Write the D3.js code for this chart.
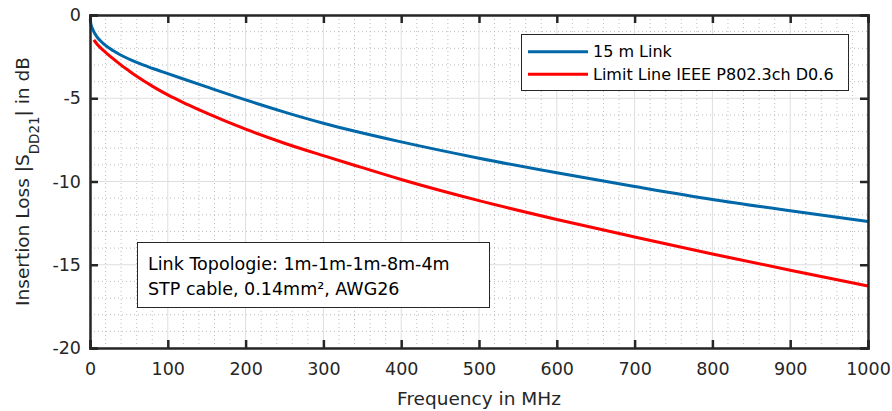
<!DOCTYPE html>
<html><head><meta charset="utf-8">
<script src="https://cdn.jsdelivr.net/npm/d3@7"></script>
<style>body{margin:0;background:#fff;} text{font-family:"DejaVu Sans",sans-serif;}</style>
</head><body>
<svg id="c" width="892" height="411"></svg>
<script>
const xTicks = [0,100,200,300,400,500,600,700,800,900,1000];
const yTicks = [0,-5,-10,-15,-20];
const linkFreq = [0.3,1,3,6,10,15,20,30,40,60,80,100,150,200,250,300,400,500,600,700,800,900,1000];
const linkIL   = [-0.25,-0.5,-0.8,-1.1,-1.38,-1.62,-1.83,-2.15,-2.42,-2.85,-3.2,-3.52,-4.32,-5.1,-5.83,-6.5,-7.62,-8.6,-9.48,-10.3,-11.08,-11.76,-12.4];
const limitFreq = [5,10,15,20,30,40,50,60,80,100,125,150,200,250,300,350,400,500,600,700,800,900,1000];
const limitIL   = [-1.5,-1.8,-2.03,-2.24,-2.64,-3.01,-3.35,-3.68,-4.27,-4.8,-5.37,-5.9,-6.86,-7.7,-8.45,-9.17,-9.88,-11.15,-12.28,-13.33,-14.35,-15.33,-16.28];
const legendLabels = ["15 m Link","Limit Line IEEE P802.3ch D0.6"];
const noteLines = ["Link Topologie: 1m-1m-1m-8m-4m","STP cable, 0.14mm², AWG26"];

const svg = d3.select("#c");
const L=90,R=868,T=15,B=348;
const x = d3.scaleLinear().domain([0,1000]).range([L,R]);
const y = d3.scaleLinear().domain([-20,0]).range([B,T]);
const g = svg.append("g");

// minor grid
g.selectAll(".mx").data(d3.range(0,1001,20).filter(v=>v%100)).join("line")
 .attr("x1",d=>x(d)).attr("x2",d=>x(d)).attr("y1",T).attr("y2",B)
 .attr("stroke","#bdbdbd").attr("stroke-width",1).attr("stroke-dasharray","1,3");
g.selectAll(".my").data(d3.range(-20,1,1).filter(v=>v%5)).join("line")
 .attr("x1",L).attr("x2",R).attr("y1",d=>y(d)).attr("y2",d=>y(d))
 .attr("stroke","#bdbdbd").attr("stroke-width",1).attr("stroke-dasharray","1,3");
// major grid
g.selectAll(".gx").data(xTicks).join("line")
 .attr("x1",d=>x(d)).attr("x2",d=>x(d)).attr("y1",T).attr("y2",B)
 .attr("stroke","#dedede").attr("stroke-width",1);
g.selectAll(".gy").data(yTicks).join("line")
 .attr("x1",L).attr("x2",R).attr("y1",d=>y(d)).attr("y2",d=>y(d))
 .attr("stroke","#dedede").attr("stroke-width",1);

// lines
const line = (xs,ys)=> d3.line().x((d,i)=>x(xs[i])).y((d,i)=>y(ys[i])).curve(d3.curveMonotoneX)(xs);
g.append("path").attr("d",line(limitFreq,limitIL)).attr("fill","none").attr("stroke","#ff0000").attr("stroke-width",3);
g.append("path").attr("d",line(linkFreq,linkIL)).attr("fill","none").attr("stroke","#0068a8").attr("stroke-width",3);

// axes
const ax = "#262626";
const fmt = d=>String(d);
const xb = svg.append("g").attr("transform",`translate(0,${B})`).call(d3.axisBottom(x).tickValues(xTicks).tickSize(-8).tickPadding(15).tickFormat(fmt));
const xt = svg.append("g").attr("transform",`translate(0,${T})`).call(d3.axisTop(x).tickValues(xTicks).tickSize(-8).tickFormat(""));
const yl = svg.append("g").attr("transform",`translate(${L},0)`).call(d3.axisLeft(y).tickValues(yTicks).tickSize(-8).tickPadding(9).tickFormat(fmt));
const yr = svg.append("g").attr("transform",`translate(${R},0)`).call(d3.axisRight(y).tickValues(yTicks).tickSize(-8).tickFormat(""));
[xb,xt,yl,yr].forEach(a=>{
  a.select(".domain").attr("stroke",ax).attr("stroke-width",2.5);
  a.selectAll(".tick line").attr("stroke",ax).attr("stroke-width",2.5);
  a.selectAll(".tick text").attr("fill",ax).style("font-size","17.5px").style("font-family","DejaVu Sans, sans-serif");
});

// axis labels
svg.append("text").attr("x",(L+R)/2).attr("y",405).attr("text-anchor","middle")
 .attr("fill",ax).style("font-size","18.5px").text("Frequency in MHz");
const yt = svg.append("text").attr("transform",`translate(29,${(T+B)/2}) rotate(-90)`).attr("text-anchor","middle")
 .attr("fill",ax).style("font-size","18.5px");
yt.append("tspan").text("Insertion Loss |S");
yt.append("tspan").attr("dy",10).style("font-size","13.5px").text("DD21");
yt.append("tspan").attr("dy",-10).text("| in dB");

// legend
const lg = svg.append("g");
lg.append("rect").attr("x",521.5).attr("y",34.5).attr("width",327).attr("height",56)
 .attr("fill","#fff").attr("stroke","#262626").attr("stroke-width",1);
const cols=["#0068a8","#ff0000"];
legendLabels.forEach((t,i)=>{
  const yy = 51.7+i*22.6;
  lg.append("line").attr("x1",528).attr("x2",588).attr("y1",yy).attr("y2",yy).attr("stroke",cols[i]).attr("stroke-width",3);
  lg.append("text").attr("x",593).attr("y",yy+5.7).attr("fill","#000").style("font-size","16px").text(t);
});

// note
const nb = svg.append("g");
nb.append("rect").attr("x",137.5).attr("y",242.5).attr("width",352).attr("height",65)
 .attr("fill","#fff").attr("stroke","#262626").attr("stroke-width",1);
noteLines.forEach((t,i)=>{
  nb.append("text").attr("x",148).attr("y",269.5+i*25.5).attr("fill","#000").style("font-size","17.5px").text(t);
});
</script>
</body></html>
